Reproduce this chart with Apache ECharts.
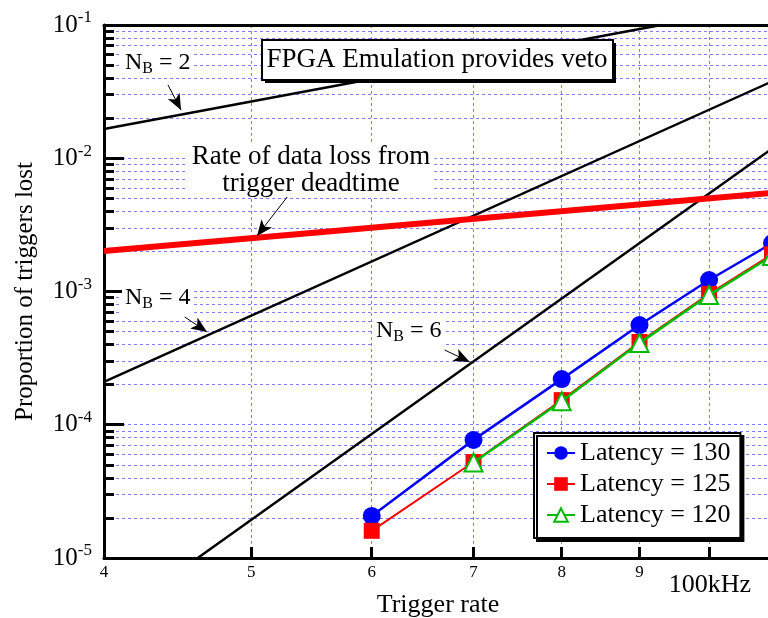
<!DOCTYPE html>
<html>
<head>
<meta charset="UTF-8"/>
<title>Proportion of triggers lost</title>
<script src="https://cdn.jsdelivr.net/npm/echarts@6/dist/echarts.min.js"></script>
<style>
    html, body { margin: 0; padding: 0; background: #fff; }
    #chart { width: 768px; height: 618px; }
</style>
</head>
<body>
<div id="chart"></div>
<script>
// trigger rate, units of 100kHz
var rateTicks = [5, 6, 7, 8, 9, 10];
var rateLabels = [4, 5, 6, 7, 8, 9];
var rates = [6, 7, 8, 9, 10, 11];

// measured proportion of triggers lost
var lat130 = [2.07e-5, 7.7e-5, 2.2e-4, 5.6e-4, 1.22e-3, 2.3e-3];
var lat125 = [1.6e-5, 5.25e-5, 1.53e-4, 4.18e-4, 9.6e-4, 1.9e-3];
var lat120 = [null, 5.2e-5, 1.5e-4, 4.1e-4, 9.4e-4, 1.85e-3];

// model curves (straight on log-log)
var nb2 = [[4, 0.0166], [9.3, 0.1]];
var nb4 = [[4, 2.1e-4], [11, 0.0377]];
var nb6 = [[4.61, 1e-5], [11, 0.0118]];
var deadtime = [[4, 2.01e-3], [11, 5.5e-3]];

// annotation arrows [from, to]
var arrowNb2 = [[4.407, 0.0355], [4.495, 0.023]];
var arrowDead = [[5.285, 5.21e-3], [5.043, 2.61e-3]];
var arrowNb4 = [[4.52, 6.44e-4], [4.676, 4.97e-4]];
var arrowNb6 = [[6.70, 3.64e-4], [6.96, 2.96e-4]];

var serif = '"Liberation Serif", "DejaVu Serif", serif';
var gridBlue = '#7d7dff';

var minorLost = [];
for (var e = -5; e <= -2; e++) {
    for (var k = 2; k <= 9; k++) {
        minorLost.push(k * Math.pow(10, e));
    }
}

function pairs(xs, ys) {
    var out = [];
    for (var i = 0; i < xs.length; i++) {
        if (ys[i] != null) out.push([xs[i], ys[i]]);
    }
    return out;
}

function arrow(a) {
    return {
        silent: true,
        animation: false,
        symbol: ['none', 'arrow'],
        symbolSize: [10, 16],
        label: {show: false},
        lineStyle: {color: '#000', width: 1, type: 'solid'},
        data: [[{coord: a[0]}, {coord: a[1]}]]
    };
}

function modelLine(data, color, width, mark) {
    return {
        type: 'line',
        data: data,
        symbol: 'none',
        silent: true,
        clip: true,
        lineStyle: {color: color, width: width},
        markLine: mark ? arrow(mark) : undefined,
        z: 3
    };
}

function nbLabel(n) {
    return {
        text: '{n|N}{b|B}{n| = ' + n + '}',
        verticalAlign: 'middle',
        backgroundColor: '#fff',
        padding: [1, 3],
        rich: {
            n: {fontFamily: serif, fontSize: 24, fill: '#000'},
            b: {fontFamily: serif, fontSize: 16, fill: '#000', padding: [12, 0, 0, 0]}
        }
    };
}

var chart = echarts.init(document.getElementById('chart'));

var option = {
    animation: false,
    grid: {left: 104, top: 25, right: -4, bottom: 60, containLabel: false, outerBoundsMode: 'none'},
    xAxis: [{
        type: 'log',
        logBase: 10,
        min: 4,
        max: 11,
        position: 'bottom',
        name: 'Trigger rate',
        nameLocation: 'middle',
        nameGap: 34,
        nameTextStyle: {fontFamily: serif, fontSize: 26, color: '#000'},
        axisLine: {lineStyle: {color: '#000', width: 3}},
        axisTick: {inside: true, length: 11, lineStyle: {color: '#000', width: 3}, customValues: rateTicks},
        axisLabel: {customValues: rateLabels, fontFamily: serif, fontSize: 17, color: '#000', margin: 6},
        splitLine: {show: true, lineStyle: {color: gridBlue, type: [3, 3], width: 1}},
        minorTick: {show: false}
    }, {
        type: 'log',
        min: 4,
        max: 11,
        position: 'top',
        axisLine: {lineStyle: {color: '#000', width: 3}},
        axisTick: {show: false},
        axisLabel: {show: false},
        splitLine: {show: false}
    }],
    yAxis: [{
        type: 'log',
        logBase: 10,
        min: 1e-5,
        max: 0.1,
        name: 'Proportion of triggers lost',
        nameLocation: 'middle',
        nameGap: 66,
        nameRotate: 90,
        nameTextStyle: {fontFamily: serif, fontSize: 25, color: '#000'},
        axisLine: {lineStyle: {color: '#000', width: 3}},
        axisTick: {inside: true, length: 20, lineStyle: {color: '#000', width: 3}},
        axisLabel: {
            margin: 12,
            formatter: function (v) {
                return '{b|10}{s|' + Math.round(Math.log10(v)) + '}';
            },
            rich: {
                b: {fontFamily: serif, fontSize: 25, color: '#000'},
                s: {fontFamily: serif, fontSize: 17, color: '#000', padding: [0, 0, 14, 0]}
            }
        },
        splitLine: {show: true, lineStyle: {color: gridBlue, type: [3, 3], width: 1}}
    }, {
        type: 'log',
        min: 1e-5,
        max: 0.1,
        position: 'left',
        axisLine: {show: false},
        axisTick: {inside: true, length: 10, lineStyle: {color: '#000', width: 3}, customValues: minorLost},
        axisLabel: {show: false},
        splitLine: {show: true, lineStyle: {color: gridBlue, type: [3, 3], width: 1}}
    }],
    legend: {
        data: ['Latency = 130', 'Latency = 125', 'Latency = 120'],
        orient: 'vertical',
        left: 534,
        top: 433,
        padding: [7, 10, 10, 12],
        itemGap: 5,
        itemWidth: 28,
        itemHeight: 17,
        itemTextGap: 10,
        backgroundColor: '#fff',
        borderColor: '#000',
        borderWidth: 2,
        borderRadius: 0,
        shadowColor: '#000',
        shadowOffsetX: 3,
        shadowOffsetY: 3,
        shadowBlur: 0,
        textStyle: {fontFamily: serif, fontSize: 26, color: '#000'},
        z: 20
    },
    series: [
        modelLine(nb2, '#000', 2.5, arrowNb2),
        modelLine(nb4, '#000', 2.5, arrowNb4),
        modelLine(nb6, '#000', 2.5, arrowNb6),
        modelLine(deadtime, '#ff0000', 6, arrowDead),
        {
            name: 'Latency = 130',
            type: 'line',
            data: pairs(rates, lat130),
            symbol: 'circle',
            symbolSize: 18,
            itemStyle: {color: '#0000ff'},
            lineStyle: {color: '#0000ff', width: 2.5},
            z: 5
        },
        {
            name: 'Latency = 125',
            type: 'line',
            data: pairs(rates, lat125),
            symbol: 'rect',
            symbolSize: 16,
            itemStyle: {color: '#ff0000'},
            lineStyle: {color: '#ff0000', width: 2},
            z: 6
        },
        {
            name: 'Latency = 120',
            type: 'line',
            data: pairs(rates, lat120),
            symbol: 'triangle',
            symbolSize: 18,
            itemStyle: {color: '#fff', borderColor: '#00bb00', borderWidth: 2},
            lineStyle: {color: '#00bb00', width: 2.5},
            z: 7
        }
    ],
    graphic: [
        {type: 'text', x: 122, y: 63, z: 10, style: nbLabel(2)},
        {type: 'text', x: 122, y: 298, z: 10, style: nbLabel(4)},
        {type: 'text', x: 373, y: 331, z: 10, style: nbLabel(6)},
        {
            type: 'text', x: 311, y: 170, z: 10,
            style: {
                text: 'Rate of data loss from\ntrigger deadtime',
                align: 'center',
                verticalAlign: 'middle',
                fontFamily: serif,
                fontSize: 27,
                lineHeight: 27,
                fill: '#000',
                backgroundColor: '#fff',
                padding: [0, 4]
            }
        },
        {
            type: 'rect', z: 10,
            shape: {x: 265, y: 43, width: 351, height: 40},
            style: {fill: '#000'}
        },
        {
            type: 'rect', z: 11,
            shape: {x: 262, y: 40, width: 351, height: 40},
            style: {fill: '#fff', stroke: '#000', lineWidth: 2}
        },
        {
            type: 'text', x: 437, y: 60, z: 12,
            style: {
                text: 'FPGA Emulation provides veto',
                align: 'center',
                verticalAlign: 'middle',
                fontFamily: serif,
                fontSize: 27,
                fill: '#000'
            }
        },
        {
            type: 'text', x: 710, y: 585, z: 10,
            style: {
                text: '100kHz',
                align: 'center',
                verticalAlign: 'middle',
                fontFamily: serif,
                fontSize: 26,
                fill: '#000'
            }
        }
    ]
};

chart.setOption(option);
</script>
</body>
</html>
